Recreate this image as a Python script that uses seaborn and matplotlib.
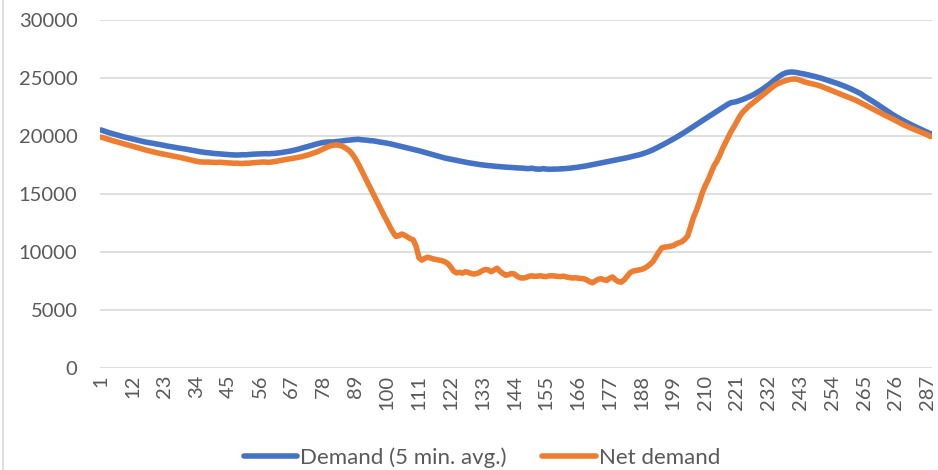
import numpy as np
import pandas as pd
import seaborn as sns
import matplotlib.pyplot as plt
from matplotlib.lines import Line2D

# 5-minute intervals over one day (288 samples)
demand = [
    20520, 20430, 20350, 20270, 20200, 20130, 20060, 19990, 19920, 19860, 19800, 19740,
    19680, 19620, 19560, 19500, 19450, 19410, 19370, 19320, 19280, 19230, 19180, 19130,
    19090, 19050, 19000, 18960, 18920, 18880, 18840, 18790, 18750, 18700, 18660, 18620,
    18580, 18560, 18530, 18500, 18480, 18460, 18440, 18420, 18400, 18380, 18370, 18360,
    18370, 18390, 18380, 18400, 18420, 18440, 18450, 18460, 18470, 18480, 18470, 18490,
    18500, 18530, 18560, 18600, 18640, 18680, 18730, 18790, 18850, 18920, 18990, 19060,
    19130, 19200, 19270, 19340, 19400, 19450, 19470, 19490, 19480, 19510, 19540, 19560,
    19600, 19630, 19650, 19680, 19700, 19720, 19680, 19660, 19640, 19600, 19590, 19550,
    19500, 19460, 19420, 19380, 19330, 19270, 19210, 19150, 19090, 19030, 18970, 18910,
    18850, 18790, 18730, 18660, 18590, 18520, 18450, 18380, 18310, 18240, 18170, 18100,
    18050, 18000, 17950, 17900, 17850, 17800, 17750, 17700, 17660, 17620, 17580, 17540,
    17510, 17480, 17450, 17430, 17400, 17380, 17360, 17340, 17320, 17300, 17290, 17270,
    17250, 17240, 17230, 17200, 17190, 17230, 17170, 17150, 17140, 17190, 17150, 17140,
    17140, 17150, 17150, 17170, 17180, 17200, 17220, 17250, 17280, 17310, 17350, 17390,
    17430, 17480, 17530, 17580, 17630, 17680, 17730, 17780, 17830, 17880, 17930, 17980,
    18030, 18080, 18130, 18190, 18250, 18310, 18370, 18440, 18520, 18610, 18710, 18820,
    18940, 19070, 19200, 19330, 19460, 19600, 19740, 19880, 20030, 20180, 20340, 20500,
    20660, 20820, 20980, 21150, 21320, 21480, 21640, 21800, 21960, 22120, 22280, 22440,
    22600, 22760, 22880, 22920, 22980, 23060, 23150, 23250, 23360, 23470, 23600, 23750,
    23900, 24060, 24250, 24420, 24620, 24820, 25020, 25200, 25350, 25450, 25500, 25520,
    25500, 25460, 25400, 25360, 25310, 25250, 25190, 25130, 25060, 25000, 24920, 24840,
    24760, 24680, 24600, 24510, 24420, 24320, 24220, 24110, 24000, 23880, 23760, 23630,
    23450, 23300, 23150, 22990, 22830, 22670, 22500, 22330, 22160, 21990, 21830, 21680,
    21540, 21400, 21270, 21140, 21010, 20890, 20770, 20650, 20530, 20420, 20310, 20200,
]

net_demand = [
    19910, 19830, 19750, 19680, 19600, 19530, 19460, 19390, 19320, 19250, 19180, 19110,
    19040, 18970, 18900, 18830, 18760, 18700, 18640, 18580, 18520, 18470, 18420, 18370,
    18320, 18270, 18220, 18170, 18120, 18060, 18000, 17940, 17880, 17820, 17780, 17760,
    17750, 17760, 17740, 17730, 17720, 17740, 17720, 17700, 17680, 17670, 17650, 17660,
    17640, 17630, 17660, 17650, 17680, 17700, 17720, 17740, 17760, 17750, 17730, 17760,
    17800, 17840, 17890, 17930, 17980, 18020, 18060, 18110, 18150, 18200, 18260, 18330,
    18400, 18480, 18570, 18660, 18780, 18900, 19020, 19120, 19200, 19230, 19220, 19160,
    19050, 18900, 18700, 18420, 18050, 17600, 17100, 16600, 16100, 15600, 15100, 14600,
    14100, 13600, 13100, 12650, 12150, 11700, 11350, 11400, 11550, 11450, 11300, 11150,
    11050, 10500, 9500, 9300, 9450, 9550, 9480, 9400, 9350, 9300, 9250, 9150,
    9000, 8700, 8350, 8200, 8250, 8180, 8300, 8250, 8150, 8100, 8150, 8250,
    8400, 8500, 8450, 8300, 8450, 8600, 8350, 8150, 8000, 8050, 8150, 8100,
    7900, 7780, 7750, 7800, 7900, 7950, 7900, 7920, 7950, 7900, 7880, 7940,
    7950, 7930, 7900, 7880, 7920, 7850, 7800, 7760, 7780, 7750, 7720, 7700,
    7600, 7450, 7350, 7500, 7650, 7700, 7600, 7550, 7750, 7850, 7600, 7450,
    7400, 7600, 7900, 8200, 8350, 8400, 8450, 8500, 8600, 8750, 8950, 9200,
    9600, 10000, 10350, 10420, 10450, 10500, 10550, 10700, 10800, 10900, 11100, 11400,
    12200, 13000, 13600, 14300, 15100, 15700, 16200, 16800, 17400, 17800, 18300, 18900,
    19400, 19900, 20400, 20800, 21250, 21700, 22050, 22300, 22550, 22750, 22950, 23150,
    23350, 23550, 23750, 23950, 24150, 24350, 24500, 24600, 24700, 24800, 24850, 24900,
    24920, 24880, 24800, 24700, 24620, 24560, 24500, 24440, 24380, 24300, 24200, 24100,
    24000, 23900, 23800, 23700, 23600, 23500, 23400, 23300, 23200, 23100, 22980, 22850,
    22720, 22590, 22460, 22330, 22200, 22070, 21940, 21820, 21700, 21580, 21450, 21320,
    21190, 21060, 20930, 20820, 20700, 20600, 20500, 20400, 20300, 20200, 20100, 19950,
]

interval = list(range(1, 289))
xtick_pos = list(range(1, 288, 11))
yticks = [0, 5000, 10000, 15000, 20000, 25000, 30000]
series_names = ["Demand (5 min. avg.)", "Net demand"]
colors = ["#4472C4", "#ED7D31"]

df = pd.DataFrame({
    "interval": interval * 2,
    "value": demand + net_demand,
    "series": [series_names[0]] * 288 + [series_names[1]] * 288,
})

sns.set_theme(style="white")
plt.rcParams['font.family'] = ['Lato', 'DejaVu Sans']
txt = "#595959"

fig = plt.figure(figsize=(9.38, 4.70), dpi=100)
ax = fig.add_axes([0.1062, 0.217, 0.8874, 0.7404])

sns.lineplot(data=df, x="interval", y="value", hue="series",
             palette=colors, linewidth=4.0, ax=ax, legend=False)

ax.set_xlim(0.5, 288.5)
ax.set_ylim(0, 30000)
ax.set_yticks(yticks)
ax.set_yticklabels([str(v) for v in yticks])
ax.set_xticks(xtick_pos)
ax.set_xticklabels([str(v) for v in xtick_pos], rotation=90)
ax.yaxis.grid(True, color="#d9d9d9", linewidth=1.2)
ax.set_axisbelow(True)
for s in ax.spines.values():
    s.set_visible(False)
ax.tick_params(axis="y", length=0, pad=16, labelsize=14.5, labelcolor=txt)
ax.tick_params(axis="x", length=0, pad=5, labelsize=14.5, labelcolor=txt)
ax.set_xlabel("")
ax.set_ylabel("")

handles = [Line2D([0], [0], color=c, linewidth=4.0, solid_capstyle="round")
           for c in colors]
fig.legend(handles, series_names, loc="center", bbox_to_anchor=(0.514, 0.027),
           ncol=2, frameon=False, fontsize=16, labelcolor=txt,
           handlelength=2.4, handletextpad=0.15, columnspacing=1.6)

# chart border on the left edge
fig.add_artist(Line2D([0.0035, 0.0035], [0, 1], color="#d9d9d9", linewidth=1.2,
                      transform=fig.transFigure))

fig.savefig("out.png", dpi=100)
